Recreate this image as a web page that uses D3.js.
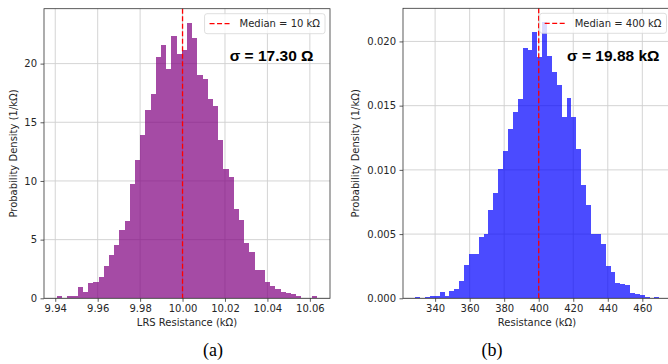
<!DOCTYPE html>
<html>
<head>
<meta charset="utf-8">
<script src="https://cdn.jsdelivr.net/npm/d3@7"></script>
<style>
  body { margin: 0; background: #fff; }
  svg { display: block; font-family: "DejaVu Sans", sans-serif; }
</style>
</head>
<body>
<div id="chart"></div>
<script>
// LRS histogram (a): 50 bins, densities in 1/kΩ
const lrsBinStart = 9.9408
const lrsBinWidth = 0.002452
const lrsDensity = [
  0.2, 0, 0.2, 0.2, 0.94, 0.51, 1.28, 1.39, 1.82, 2.73,
  3.66, 4.57, 5.82, 6.62, 9.7, 11.75, 13.9, 16.05, 17.39, 20.57,
  21.55, 19.57, 22.33, 20.86, 21.2, 23.5, 22.2, 19.0, 18.7, 16.98,
  16.4, 13.47, 11.02, 10.3, 7.61, 6.65, 4.72, 3.92, 2.41, 2.41,
  1.39, 1.05, 0.77, 0.54, 0.43, 0.36, 0.2, 0, 0, 0.2
]
const lrsTicksX = [9.94, 9.96, 9.98, 10.0, 10.02, 10.04, 10.06]
const lrsTicksY = [0, 5, 10, 15, 20]
const lrsMedian = 10.0

// HRS histogram (b)
const hrsBinStart = 328.47
const hrsBinWidth = 2.828
const hrsDensity = [
  0.00008, 0, 0.0001, 0.00018, 0.00018, 0.00047, 0.00018, 0.00055, 0.0007, 0.00138,
  0.00258, 0.00346, 0.00348, 0.00474, 0.00497, 0.0069, 0.0082, 0.01008, 0.01146, 0.0132,
  0.0145, 0.0155, 0.0195, 0.0193, 0.0207, 0.01875, 0.0215, 0.0189, 0.0176, 0.0166,
  0.0141, 0.0156, 0.0141, 0.0116, 0.0088, 0.0073, 0.005, 0.005, 0.0042, 0.00255,
  0.00208, 0.0012, 0.0011, 0.001, 0.00043, 0.00036, 0.00028, 0.00009, 0, 0.00009
]
const hrsTicksX = [340, 360, 380, 400, 420, 440, 460]
const hrsTicksY = [0, 0.005, 0.01, 0.015, 0.02]
const hrsMedian = 400

const width = 668
const height = 364

const svg = d3.select('#chart')
  .append('svg')
  .attr('width', width)
  .attr('height', height)

function drawPanel(opt) {
  const x = d3.scaleLinear().domain(opt.xDomain).range([opt.left, opt.right])
  const y = d3.scaleLinear().domain(opt.yDomain).range([opt.bottom, opt.top])
  const g = svg.append('g')

  // grid under the semi-transparent bars
  g.selectAll('line.gx').data(opt.xTicks).join('line')
    .attr('x1', d => x(d)).attr('x2', d => x(d))
    .attr('y1', opt.top).attr('y2', opt.bottom)
    .attr('stroke', '#cfcfcf').attr('stroke-width', 0.9)
  g.selectAll('line.gy').data(opt.yTicks).join('line')
    .attr('x1', opt.left).attr('x2', opt.right)
    .attr('y1', d => y(d)).attr('y2', d => y(d))
    .attr('stroke', '#cfcfcf').attr('stroke-width', 0.9)

  const bins = opt.density.map((v, i) => ({
    x0: opt.binStart + i * opt.binWidth,
    x1: opt.binStart + (i + 1) * opt.binWidth,
    v: v
  }))
  // opacity on the group so neighbouring bars do not leave seams
  g.append('g').attr('opacity', 0.7)
    .selectAll('rect').data(bins.filter(d => d.v > 0)).join('rect')
    .attr('x', d => Math.round(x(d.x0)))
    .attr('width', d => Math.round(x(d.x1)) - Math.round(x(d.x0)))
    .attr('y', d => y(d.v))
    .attr('height', d => y(0) - y(d.v))
    .attr('fill', opt.color)
    .attr('shape-rendering', 'crispEdges')

  // median line
  g.append('line')
    .attr('x1', x(opt.median)).attr('x2', x(opt.median))
    .attr('y1', opt.top).attr('y2', opt.bottom)
    .attr('stroke', '#ff0000').attr('stroke-width', 1.3)
    .attr('stroke-dasharray', '5,2.5')

  // spines
  g.append('rect')
    .attr('x', opt.left).attr('y', opt.top)
    .attr('width', opt.right - opt.left).attr('height', opt.bottom - opt.top)
    .attr('fill', 'none').attr('stroke', '#333').attr('stroke-width', 0.8)

  const xAxis = d3.axisBottom(x).tickValues(opt.xTicks).tickFormat(opt.xFormat)
    .tickSize(3.5).tickPadding(3.5)
  const yAxis = d3.axisLeft(y).tickValues(opt.yTicks).tickFormat(opt.yFormat)
    .tickSize(3.5).tickPadding(3.5)

  const gx = g.append('g').attr('transform', `translate(0,${opt.bottom})`).call(xAxis)
  const gy = g.append('g').attr('transform', `translate(${opt.left},0)`).call(yAxis)
  for (const ax of [gx, gy]) {
    ax.select('.domain').remove()
    ax.selectAll('.tick line').attr('stroke', '#333').attr('stroke-width', 0.8)
    ax.selectAll('.tick text')
      .attr('fill', '#262626')
      .style('font-family', '"DejaVu Sans", sans-serif')
      .style('font-size', '10px')
  }

  // axis labels
  g.append('text')
    .attr('x', (opt.left + Math.min(opt.right, width)) / 2 + opt.xLabelShift)
    .attr('y', opt.bottom + 28)
    .attr('text-anchor', 'middle')
    .attr('font-size', 10).attr('fill', '#262626')
    .text(opt.xLabel)
  g.append('text')
    .attr('transform', `translate(${opt.yLabelX},${(opt.top + opt.bottom) / 2}) rotate(-90)`)
    .attr('text-anchor', 'middle')
    .attr('dominant-baseline', 'middle')
    .attr('font-size', 10).attr('fill', '#262626')
    .text('Probability Density (1/kΩ)')

  // legend
  const leg = g.append('g')
  const legBox = leg.append('rect')
  const legText = leg.append('text')
    .attr('font-size', 10).attr('fill', '#262626')
    .text(opt.legend)
  const tw = legText.node().getComputedTextLength()
  const boxW = tw + 40
  const boxRight = opt.right - 5
  const boxTop = opt.top + 5
  legBox
    .attr('x', boxRight - boxW).attr('y', boxTop)
    .attr('width', boxW).attr('height', 20)
    .attr('rx', 2.5)
    .attr('fill', '#fff').attr('fill-opacity', 0.8)
    .attr('stroke', '#d6d6d6').attr('stroke-width', 0.8)
  legText.attr('x', boxRight - 5 - tw).attr('y', boxTop + 13.5)
  leg.append('line')
    .attr('x1', boxRight - boxW + 5).attr('x2', boxRight - boxW + 26)
    .attr('y1', boxTop + 10).attr('y2', boxTop + 10)
    .attr('stroke', '#ff0000').attr('stroke-width', 1.3)
    .attr('stroke-dasharray', '5,2.5')

  // sigma annotation
  g.append('text')
    .attr('x', opt.sigmaX).attr('y', 60.5)
    .attr('text-anchor', 'end')
    .style('font-family', '"Liberation Sans", Arial, sans-serif')
    .attr('font-size', 15.5).attr('font-weight', 'bold').attr('fill', '#000')
    .text(opt.sigma)

  // caption
  svg.append('text')
    .attr('x', opt.captionX).attr('y', 356)
    .attr('text-anchor', 'middle')
    .style('font-family', '"Liberation Serif", "Times New Roman", serif')
    .attr('font-size', 18).attr('fill', '#000')
    .text(opt.caption)
}

drawPanel({
  left: 44, right: 330, top: 8.7, bottom: 298.3,
  xDomain: [9.9347, 10.0695], yDomain: [0, 24.68],
  xTicks: lrsTicksX, yTicks: lrsTicksY,
  xFormat: d3.format('.2f'), yFormat: d3.format('d'),
  binStart: lrsBinStart, binWidth: lrsBinWidth, density: lrsDensity,
  color: '#800080', median: lrsMedian,
  xLabel: 'LRS Resistance (kΩ)', xLabelShift: 0, yLabelX: 14,
  legend: 'Median = 10 kΩ', sigma: 'σ = 17.30 Ω', sigmaX: 313.5,
  caption: '(a)', captionX: 213
})

drawPanel({
  left: 403, right: 671.5, top: 8.3, bottom: 298.3,
  xDomain: [321.4, 476.9], yDomain: [0, 0.02258],
  xTicks: hrsTicksX, yTicks: hrsTicksY,
  xFormat: d3.format('d'), yFormat: d3.format('.3f'),
  binStart: hrsBinStart, binWidth: hrsBinWidth, density: hrsDensity,
  color: '#0000ff', median: hrsMedian,
  xLabel: 'Resistance (kΩ)', xLabelShift: 1.5, yLabelX: 356,
  legend: 'Median = 400 kΩ', sigma: 'σ = 19.88 kΩ', sigmaX: 659.5,
  caption: '(b)', captionX: 492
})
</script>
</body>
</html>
